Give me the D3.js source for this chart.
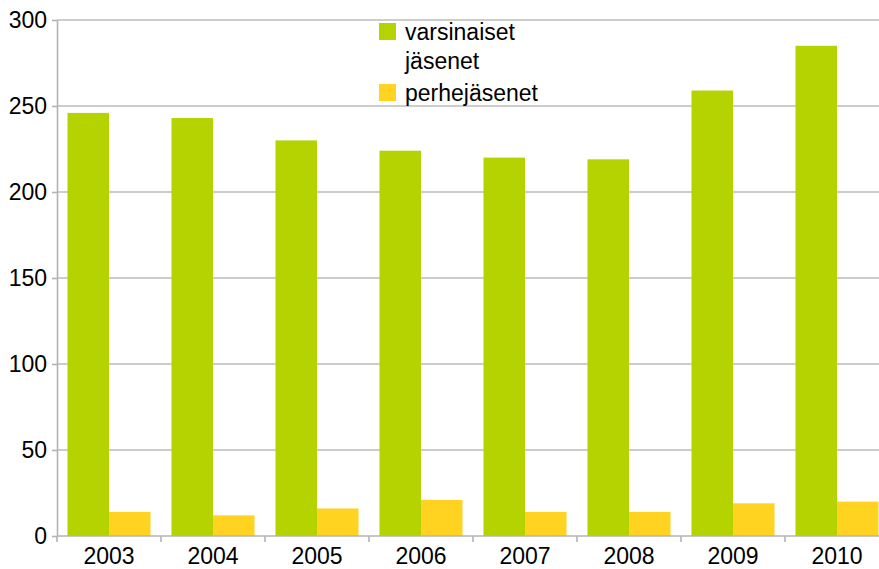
<!DOCTYPE html>
<html>
<head>
<meta charset="utf-8">
<script src="https://cdn.jsdelivr.net/npm/d3@7/dist/d3.min.js"></script>
<style>
  html, body { margin: 0; padding: 0; background: #fff; overflow: hidden; }
  svg { display: block; font-family: "Liberation Sans", Arial, sans-serif; }
</style>
</head>
<body>
<div id="chart"></div>
<script>
// Chart data
const years = ['2003', '2004', '2005', '2006', '2007', '2008', '2009', '2010'];
const varsinaiset = [246, 243, 230, 224, 220, 219, 259, 285];
const perhe = [14, 12, 16, 21, 14, 14, 19, 20];
const seriesNames = [['varsinaiset', 'jäsenet'], ['perhejäsenet']];
const seriesKeys = ['varsinaiset', 'perhe'];
const colors = ['#b4d300', '#ffd320'];
const yTicks = [0, 50, 100, 150, 200, 250, 300];

const width = 879;
const height = 569;

const rows = years.map((y, i) => ({ year: y, varsinaiset: varsinaiset[i], perhe: perhe[i] }));

const svg = d3.select('#chart')
    .append('svg')
    .attr('width', width)
    .attr('height', height);

// plot runs past the right edge of the picture, like the original
const x = d3.scaleBand()
    .domain(years)
    .range([57, 889])
    .padding(0);

const xInner = d3.scaleBand()
    .domain(seriesKeys)
    .range([10.5, x.bandwidth() - 10.5])
    .padding(0);

const y = d3.scaleLinear()
    .domain([0, 300])
    .range([536, 20]);

// Grid lines
svg.append('g')
    .selectAll('line')
    .data(yTicks.slice(1))
    .enter().append('line')
    .attr('x1', 57)
    .attr('x2', width)
    .attr('y1', d => y(d))
    .attr('y2', d => y(d))
    .attr('stroke', '#bdbdbd')
    .attr('stroke-width', 1.6);

// Bars
const group = svg.append('g')
    .selectAll('g')
    .data(rows)
    .enter().append('g')
    .attr('transform', d => `translate(${x(d.year)},0)`);

group.selectAll('rect')
    .data(d => seriesKeys.map((k, i) => ({ key: k, value: d[k], color: colors[i] })))
    .enter().append('rect')
    .attr('x', d => xInner(d.key))
    .attr('width', xInner.bandwidth())
    .attr('y', d => y(d.value))
    .attr('height', d => y(0) - y(d.value))
    .attr('fill', d => d.color);

// Axes
const yAxis = svg.append('g')
    .attr('transform', 'translate(57,0)')
    .call(d3.axisLeft(y).tickValues(yTicks).tickSize(5).tickPadding(5).tickSizeOuter(0));

const xAxis = svg.append('g')
    .attr('transform', `translate(0,${y(0)})`)
    .call(d3.axisBottom(x).tickSize(0).tickPadding(12).tickSizeOuter(0));

// x tick marks sit between the categories
xAxis.append('g')
    .selectAll('line')
    .data(years)
    .enter().append('line')
    .attr('x1', d => x(d))
    .attr('x2', d => x(d))
    .attr('y1', 0)
    .attr('y2', 6)
    .attr('stroke', '#b3b3b3')
    .attr('stroke-width', 1.6);

[yAxis, xAxis].forEach(ax => {
    ax.select('.domain').attr('stroke', '#b3b3b3').attr('stroke-width', 1.6);
    ax.selectAll('.tick line').attr('stroke', '#b3b3b3').attr('stroke-width', 1.6);
    ax.selectAll('.tick text')
        .attr('fill', '#000')
        .style('font-size', '23px')
        .style('font-family', '"Liberation Sans", Arial, sans-serif');
});
xAxis.select('.domain').attr('d', `M57,0H${width}`);

// Legend
const legend = svg.append('g')
    .attr('transform', 'translate(379,0)');

const legendTops = [23, 84];
const legendItem = legend.selectAll('g')
    .data(seriesNames)
    .enter().append('g')
    .attr('transform', (d, i) => `translate(0,${legendTops[i]})`);

legendItem.append('rect')
    .attr('width', 17)
    .attr('height', 17)
    .attr('fill', (d, i) => colors[i]);

legendItem.append('text')
    .attr('x', 26)
    .attr('y', 17)
    .style('font-size', '23px')
    .attr('fill', '#000')
    .selectAll('tspan')
    .data(d => d)
    .enter().append('tspan')
    .attr('x', 26)
    .attr('dy', (d, i) => i === 0 ? 0 : 29)
    .text(d => d);
</script>
</body>
</html>
